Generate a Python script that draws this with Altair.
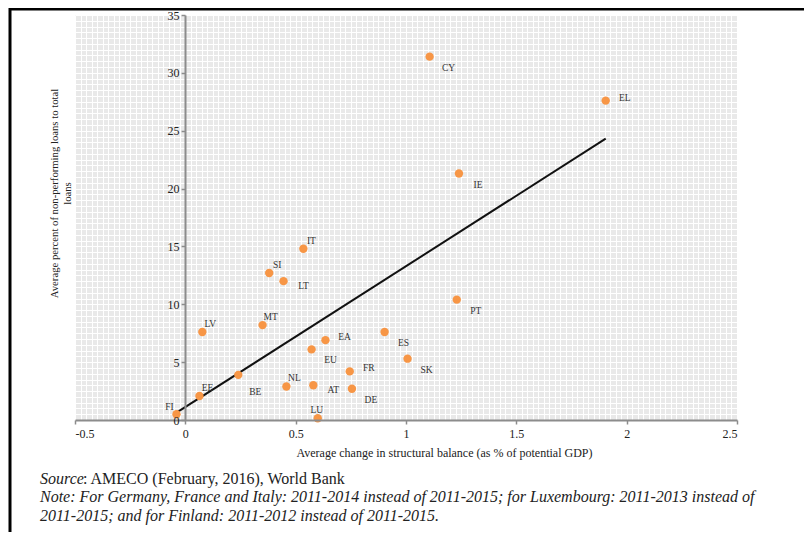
import altair as alt
import pandas as pd
import numpy as np

# ---------------- data ----------------
countries = ["FI", "EE", "BE", "LV", "MT", "SI", "LT", "IT", "NL", "EU", "EA",
             "AT", "LU", "FR", "DE", "ES", "SK", "CY", "IE", "PT", "EL"]
balance_change = [-0.04, 0.064, 0.24, 0.077, 0.35, 0.38, 0.445, 0.535, 0.458, 0.572, 0.635,
                  0.58, 0.60, 0.745, 0.755, 0.903, 1.007, 1.107, 1.24, 1.23, 1.905]
npl_ratio = [0.5, 2.07, 3.9, 7.6, 8.2, 12.7, 12.0, 14.8, 2.9, 6.1, 6.9,
             3.0, 0.15, 4.2, 2.7, 7.6, 5.3, 31.4, 21.3, 10.4, 27.6]
label_side = ["ul", "ur", "llr", "ur", "ur", "ur", "rb", "ur", "ur", "lr", "r",
              "rb", "u", "r", "lr", "lr", "lr", "lr", "lr", "lr", "r"]

x_ticks = [-0.5, 0, 0.5, 1, 1.5, 2, 2.5]
y_ticks = [0, 5, 10, 15, 20, 25, 30, 35]

x_title = "Average change in structural balance (as % of potential GDP)"
y_title = ["Average percent of non-performing loans to total", "loans"]
source_label = "Source"
source_text = ": AMECO (February, 2016), World Bank"
note_line1 = ("Note: For Germany, France and Italy: 2011-2014 instead of 2011-2015; "
              "for Luxembourg: 2011-2013 instead of")
note_line2 = "2011-2015; and for Finland: 2011-2012 instead of 2011-2015."

df = pd.DataFrame({"country": countries, "balance": balance_change,
                   "npl": npl_ratio, "side": label_side})

# ---------------- styling ----------------
FONT = "Liberation Serif"
W, H = 662, 405
AXIS_GRAY = "#8c8c8c"
TXT = "#222222"

x_scale = alt.Scale(domain=[-0.5, 2.5], nice=False, zero=False)
y_scale = alt.Scale(domain=[0, 35], nice=False, zero=False)

x_grid_vals = [round(float(v), 3) for v in np.arange(-0.5, 2.5001, 0.025)]
y_grid_vals = [round(float(v), 2) for v in np.arange(0, 35.001, 0.5)]

base = alt.Chart(df)

grid_layer = base.mark_point(opacity=0).encode(
    x=alt.X("balance:Q", scale=x_scale,
            axis=alt.Axis(orient="bottom", values=x_grid_vals, grid=True,
                          gridColor="white", gridWidth=1, gridOpacity=1,
                          labels=False, ticks=False, domain=False, title=None,
                          zindex=0)),
    y=alt.Y("npl:Q", scale=y_scale,
            axis=alt.Axis(orient="left", values=y_grid_vals, grid=True,
                          gridColor="white", gridWidth=1, gridOpacity=1,
                          labels=False, ticks=False, domain=False,
                          title=y_title, titleFont=FONT, titleFontSize=10.7,
                          titleFontWeight="normal", titleColor=TXT,
                          titleX=-18, titleY=178, titleAngle=270,
                          titleAlign="center", titleBaseline="alphabetic",
                          titleLineHeight=13.5, zindex=0)),
)

trend = base.transform_regression("balance", "npl").mark_line(
    color="#111111", strokeWidth=2
).encode(
    x=alt.X("balance:Q", scale=x_scale, axis=None),
    y=alt.Y("npl:Q", scale=y_scale, axis=None),
)

points = base.mark_circle(size=70, color="#F79646", opacity=1).encode(
    x=alt.X("balance:Q", scale=x_scale,
            axis=alt.Axis(orient="bottom", values=x_ticks, grid=False,
                          domainColor=AXIS_GRAY, domainWidth=2,
                          tickColor=AXIS_GRAY, tickWidth=1.5, tickSize=4,
                          labelFont=FONT, labelFontSize=12, labelColor=TXT,
                          labelPadding=4, labelExpr="'' + datum.value",
                          title=x_title, titleFont=FONT, titleFontSize=12,
                          titleFontWeight="normal", titleColor=TXT,
                          titleX=369, titleAlign="center",
                          titlePadding=8, zindex=1)),
    y=alt.Y("npl:Q", scale=y_scale,
            axis=alt.Axis(orient="left", offset=-110, values=y_ticks, grid=False,
                          domainColor=AXIS_GRAY, domainWidth=2,
                          tickColor=AXIS_GRAY, tickWidth=1.5, tickSize=4,
                          labelFont=FONT, labelFontSize=12, labelColor=TXT,
                          labelPadding=2, title=None, zindex=1)),
)

offsets = {"ur": (8, -8), "r": (19, -3), "rb": (20, 5), "lr": (19, 11),
           "llr": (17, 17), "ul": (-7, -7), "u": (-1, -8)}

label_layers = []
for side, (ddx, ddy) in offsets.items():
    label_layers.append(
        base.transform_filter(alt.datum.side == side).mark_text(
            dx=ddx, dy=ddy, font=FONT, fontSize=9.5, color="#333333",
            align="center", baseline="middle"
        ).encode(
            x=alt.X("balance:Q", scale=x_scale, axis=None),
            y=alt.Y("npl:Q", scale=y_scale, axis=None),
            text="country:N",
        )
    )


def note(text, x, y, italic=True):
    return alt.Chart(pd.DataFrame({"t": [text]})).mark_text(
        font=FONT, fontSize=16, fontStyle="italic" if italic else "normal",
        color=TXT, align="left", baseline="middle"
    ).encode(x=alt.value(x), y=alt.value(y), text="t:N")


notes = [
    note(source_label, -35, 464, True),
    note(source_text, 8, 464, False),
    note(note_line1, -35, 482, True),
    note(note_line2, -35, 501, True),
]

frame_df = pd.DataFrame({"k": [0]})
frame_left = alt.Chart(frame_df).mark_rule(color="black", strokeWidth=3).encode(
    x=alt.value(-65), y=alt.value(-7), y2=alt.value(517))
frame_top = alt.Chart(frame_df).mark_rule(color="black", strokeWidth=3).encode(
    x=alt.value(-66), x2=alt.value(729), y=alt.value(-6))

chart = alt.layer(
    grid_layer, trend, points, *label_layers, *notes, frame_left, frame_top
).resolve_axis(
    x="independent", y="independent"
).properties(
    width=W, height=H,
    autosize=alt.AutoSizeParams(type="none"),
    padding={"left": 67, "top": 7, "right": 67, "bottom": 112},
    background="white",
).configure_view(
    fill="#e9e9e9", stroke=None
).configure_axis(
    labelFont=FONT, titleFont=FONT
).configure_text(font=FONT)

chart.save("out.html", embed_options={"renderer": "svg", "actions": False})
